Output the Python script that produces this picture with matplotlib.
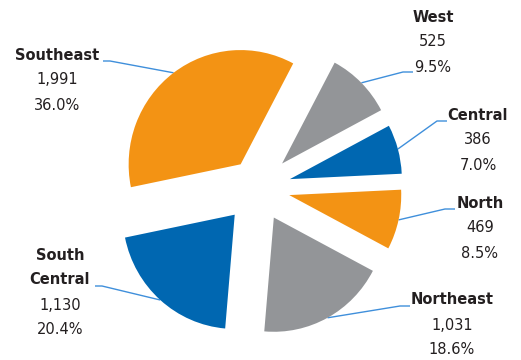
import numpy as np
import matplotlib
matplotlib.use("Agg")
import matplotlib.pyplot as plt

# --- data (clockwise from the top-right)
regions = ["West", "Central", "North", "Northeast", "South Central", "Southeast"]
counts = [525, 386, 469, 1031, 1130, 1991]
shares = [9.5, 7.0, 8.5, 18.6, 20.4, 36.0]

colors = ["#939598", "#0067B1", "#F39314", "#939598", "#0067B1", "#F39314"]
line_col = "#3F8FDB"
txt_col = "#231F20"

# --- layout in pixel units (y measured from top, flipped later)
W, H = 521, 360
sy = 1.02          # the pie is drawn a touch taller than wide
cx, cy = 258, 188
rad = 112
expl = [34, 33, 32, 33, 35, 29]  # offsets in pixels
start = 62  # degrees, math convention


def yd(y):
    # screen y (from top) -> data y
    return (H - y) / sy


# label centre (x, y of first line), elbow point, end of short horizontal
label_pos = {
    "West": (433, 17),
    "Central": (478, 115),
    "North": (480, 203),
    "Northeast": (452, 300),
    "South Central": (60, 255),
    "Southeast": (57, 55),
}
elbows = {
    "West": ((403, 72), (413, 72)),
    "Central": ((437, 121), (447, 121)),
    "North": ((445, 209), (455, 209)),
    "Northeast": ((400, 306), (410, 306)),
    "South Central": ((102, 286), (95, 286)),
    "Southeast": ((110, 61), (103, 61)),
}

plt.rcParams['font.family'] = ['DejaVu Sans']
fig = plt.figure(figsize=(W / 100, H / 100), dpi=100)
ax = fig.add_axes([0, 0, 1, 1])

wedges, _ = ax.pie(counts, colors=colors, startangle=start, counterclock=False,
                   radius=rad, center=(cx, yd(cy)), explode=expl,
                   wedgeprops=dict(linewidth=0))
# pie resets the limits, so set them afterwards
ax.set_aspect('auto')
ax.set_xlim(0, W)
ax.set_ylim(0, H / sy)
ax.axis('off')

for w, name, n, p in zip(wedges, regions, counts, shares):
    mid = np.deg2rad((w.theta1 + w.theta2) / 2)
    wx, wy = w.center
    x0 = wx + rad * np.cos(mid)
    y0 = wy + rad * np.sin(mid)
    (ex, ey), (hx, hy) = elbows[name]
    ax.plot([x0, ex, hx], [y0, yd(ey), yd(hy)], color=line_col, lw=1.0,
            solid_capstyle='butt', zorder=0)

    lx, ly = label_pos[name]
    lines = name.split(" ")
    k = 0
    for part in lines:
        ax.text(lx, yd(ly + 25 * k), part, ha='center', va='center',
                fontsize=10.5, fontweight='bold', color=txt_col)
        k += 1
    ax.text(lx, yd(ly + 25 * k), f"{n:,}", ha='center', va='center',
            fontsize=10.5, color=txt_col)
    ax.text(lx, yd(ly + 25 * (k + 1)), f"{p:.1f}%", ha='center', va='center',
            fontsize=10.5, color=txt_col)

fig.savefig("out.png", dpi=100)
